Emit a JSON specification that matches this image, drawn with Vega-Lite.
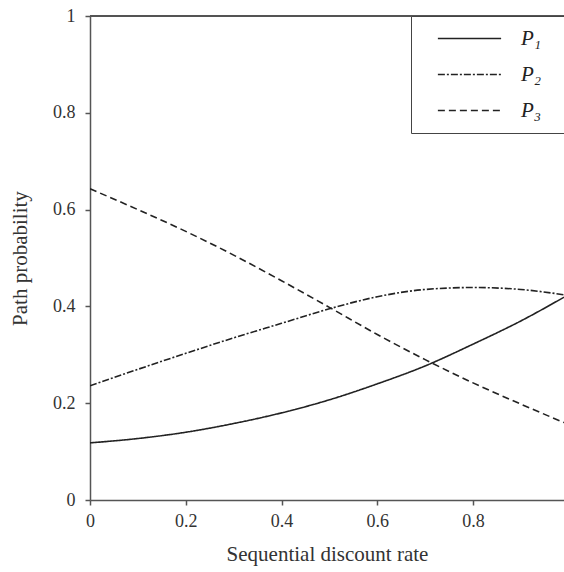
{
  "$schema": "https://vega.github.io/schema/vega-lite/v6.json",
  "width": 474,
  "height": 484,
  "autosize": {"type": "none"},
  "padding": {"left": 90, "top": 16, "right": 0, "bottom": 72},
  "background": "white",
  "config": {
    "view": {"stroke": null},
    "font": "Liberation Serif",
    "axis": {
      "domainColor": "#555",
      "domainWidth": 1.5,
      "tickColor": "#555",
      "tickWidth": 1.5,
      "tickSize": 5,
      "grid": false,
      "labelFlush": false,
      "labelFont": "Liberation Serif",
      "labelFontSize": 18,
      "labelColor": "#333",
      "titleFont": "Liberation Serif",
      "titleFontSize": 21,
      "titleFontWeight": "normal",
      "titleColor": "#333"
    }
  },
  "data": {
    "values": [
      {"rate": 0.0, "path": "P₁", "prob": 0.118},
      {"rate": 0.1, "path": "P₁", "prob": 0.127},
      {"rate": 0.2, "path": "P₁", "prob": 0.140},
      {"rate": 0.3, "path": "P₁", "prob": 0.158},
      {"rate": 0.4, "path": "P₁", "prob": 0.180},
      {"rate": 0.5, "path": "P₁", "prob": 0.207},
      {"rate": 0.6, "path": "P₁", "prob": 0.240},
      {"rate": 0.7, "path": "P₁", "prob": 0.277},
      {"rate": 0.8, "path": "P₁", "prob": 0.322},
      {"rate": 0.9, "path": "P₁", "prob": 0.370},
      {"rate": 0.99, "path": "P₁", "prob": 0.419},
      {"rate": 0.0, "path": "P₂", "prob": 0.236},
      {"rate": 0.1, "path": "P₂", "prob": 0.270},
      {"rate": 0.2, "path": "P₂", "prob": 0.303},
      {"rate": 0.3, "path": "P₂", "prob": 0.335},
      {"rate": 0.4, "path": "P₂", "prob": 0.365},
      {"rate": 0.5, "path": "P₂", "prob": 0.395},
      {"rate": 0.6, "path": "P₂", "prob": 0.420},
      {"rate": 0.7, "path": "P₂", "prob": 0.435},
      {"rate": 0.8, "path": "P₂", "prob": 0.439},
      {"rate": 0.9, "path": "P₂", "prob": 0.435},
      {"rate": 0.99, "path": "P₂", "prob": 0.424},
      {"rate": 0.0, "path": "P₃", "prob": 0.643},
      {"rate": 0.1, "path": "P₃", "prob": 0.600},
      {"rate": 0.2, "path": "P₃", "prob": 0.555},
      {"rate": 0.3, "path": "P₃", "prob": 0.506},
      {"rate": 0.4, "path": "P₃", "prob": 0.453},
      {"rate": 0.5, "path": "P₃", "prob": 0.398},
      {"rate": 0.6, "path": "P₃", "prob": 0.342},
      {"rate": 0.7, "path": "P₃", "prob": 0.290},
      {"rate": 0.8, "path": "P₃", "prob": 0.242},
      {"rate": 0.9, "path": "P₃", "prob": 0.198},
      {"rate": 0.99, "path": "P₃", "prob": 0.160}
    ]
  },
  "layer": [
    {
      "mark": {"type": "rule", "color": "#555", "strokeWidth": 1.5},
      "encoding": {"y": {"datum": 1}}
    },
    {
      "mark": {"type": "line", "interpolate": "monotone", "strokeWidth": 1.6, "color": "#222", "clip": true},
      "encoding": {
        "x": {
          "field": "rate",
          "type": "quantitative",
          "title": "Sequential discount rate",
          "scale": {"domain": [0, 0.99], "nice": false, "zero": false},
          "axis": {"values": [0, 0.2, 0.4, 0.6, 0.8], "format": ".1~f", "labelPadding": 7, "titlePadding": 13}
        },
        "y": {
          "field": "prob",
          "type": "quantitative",
          "title": "Path probability",
          "scale": {"domain": [0, 1], "nice": false},
          "axis": {"values": [0, 0.2, 0.4, 0.6, 0.8, 1], "format": ".1~f", "labelPadding": 10, "titlePadding": 22}
        },
        "strokeDash": {
          "field": "path",
          "type": "nominal",
          "scale": {"domain": ["P₁", "P₂", "P₃"], "range": [[1, 0], [7, 2, 2, 2], [7, 4]]},
          "legend": {
            "title": null,
            "orient": "top-right",
            "offset": 0,
            "fillColor": "white",
            "strokeColor": "#444",
            "padding": 12,
            "symbolType": "stroke",
            "symbolSize": 4000,
            "symbolOffset": 14,
            "symbolStrokeWidth": 1.6,
            "symbolStrokeColor": "#222",
            "clipHeight": 21,
            "labelFont": "Liberation Serif",
            "labelFontStyle": "italic",
            "labelFontSize": 21,
            "labelColor": "#222",
            "labelOffset": 19,
            "labelExpr": "datum.label + '\u00a0\u00a0\u200b'",
            "rowPadding": 14
          }
        }
      }
    }
  ]
}
